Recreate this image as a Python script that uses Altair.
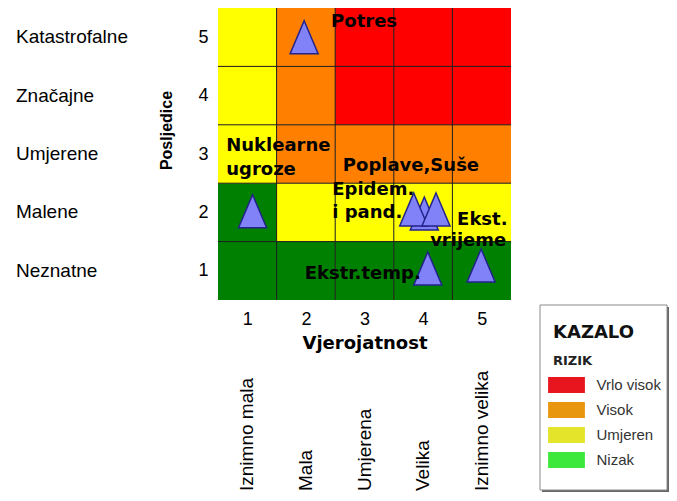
import altair as alt
import pandas as pd

# ---------------- data ----------------
prob_ticks = [1, 2, 3, 4, 5]
cons_ticks = [1, 2, 3, 4, 5]
cons_names = ["Neznatne", "Malene", "Umjerene", "Značajne", "Katastrofalne"]
prob_names = ["Iznimno mala", "Mala", "Umjerena", "Velika", "Iznimno velika"]

levels = ["Vrlo visok", "Visok", "Umjeren", "Nizak"]
cell_colors = ["#FF0000", "#FF8000", "#FFFF00", "#008000"]
legend_colors = ["#E8141E", "#E9960F", "#E4E42A", "#3CE83C"]

# risk level of each cell: rows = consequence 1..5, columns = probability 1..5
risk_rows = [
    ["Nizak", "Nizak", "Nizak", "Nizak", "Nizak"],
    ["Nizak", "Umjeren", "Umjeren", "Umjeren", "Umjeren"],
    ["Umjeren", "Visok", "Visok", "Visok", "Visok"],
    ["Umjeren", "Visok", "Vrlo visok", "Vrlo visok", "Vrlo visok"],
    ["Umjeren", "Visok", "Vrlo visok", "Vrlo visok", "Vrlo visok"],
]

event_x = [1.97, 1.09, 4.02, 3.84, 4.22, 4.08, 4.99]
event_y = [5.00, 2.02, 1.98, 2.05, 2.05, 1.04, 1.09]

label_text = ["Potres", "Nuklearne", "ugroze", "Poplave,Suše", "Epidem.", "i pand.",
              "Ekst.", "vrijeme", "Ekstr.temp."]
label_x = [2.43, 0.64, 0.64, 2.63, 2.45, 2.45, 4.58, 4.12, 1.98]
label_y = [5.26, 3.14, 2.73, 2.79, 2.38, 1.99, 1.87, 1.51, 0.945]

grid_breaks = [1.5, 2.5, 3.5, 4.5]

# ---------------- tables ----------------
cells = pd.DataFrame([
    {"p0": p - 0.5, "p1": p + 0.5, "c0": c - 0.5, "c1": c + 0.5,
     "fill": cell_colors[levels.index(risk_rows[c - 1][p - 1])]}
    for c in cons_ticks for p in prob_ticks
])
events = pd.DataFrame({"x": event_x, "y": event_y})
labels = pd.DataFrame({"t": label_text, "x": label_x, "y": label_y})
vgrid = pd.DataFrame({"x": grid_breaks, "y0": [0.5] * 4, "y1": [5.5] * 4})
hgrid = pd.DataFrame({"y": grid_breaks, "x0": [0.5] * 4, "x1": [5.5] * 4})
cons_df = pd.DataFrame({"c": cons_ticks, "name": cons_names})
prob_df = pd.DataFrame({"p": prob_ticks, "name": prob_names})
legend_df = pd.DataFrame({"level": levels})
one = pd.DataFrame({"a": [0]})

xs = alt.Scale(domain=[0.5, 5.5], nice=False, zero=False)
ys = alt.Scale(domain=[0.5, 5.5], nice=False, zero=False)

x_axis = alt.Axis(values=prob_ticks, format="d", domain=False, ticks=False, tickSize=0,
                  grid=False, labelFont="Liberation Sans", labelFontSize=18,
                  labelColor="black", labelPadding=10, title="Vjerojatnost",
                  titleFont="DejaVu Sans", titleFontSize=18, titleFontWeight="bold",
                  titleColor="black", titlePadding=6)
y_axis = alt.Axis(values=cons_ticks, format="d", domain=False, ticks=False, tickSize=0,
                  grid=False, labelFont="Liberation Sans", labelFontSize=18,
                  labelColor="black", labelPadding=10, title="Posljedice",
                  titleFont="Liberation Sans", titleFontSize=16, titleFontWeight="bold",
                  titleColor="black", titleAngle=270, titleX=-52, titleY=122,
                  titleAlign="center", titleBaseline="middle")


def X(field):
    return alt.X(field, scale=xs, axis=x_axis, title="Vjerojatnost")


def Y(field):
    return alt.Y(field, scale=ys, axis=y_axis, title="Posljedice")


rect = alt.Chart(cells).mark_rect().encode(
    x=X("p0:Q"), x2="p1:Q", y=Y("c0:Q"), y2="c1:Q",
    fill=alt.Fill("fill:N", scale=None),
)

vlines = alt.Chart(vgrid).mark_rule(color="#1a1a1a", strokeWidth=1).encode(
    x=X("x:Q"), y=Y("y0:Q"), y2="y1:Q",
)
hlines = alt.Chart(hgrid).mark_rule(color="#1a1a1a", strokeWidth=1).encode(
    y=Y("y:Q"), x=X("x0:Q"), x2="x1:Q",
)

tri = alt.Chart(events).mark_point(
    shape="M0,-1L0.85,1L-0.85,1Z", size=1089, filled=True,
    fill="#8282F8", stroke="#23238C", strokeWidth=1.5, opacity=1,
).encode(x=X("x:Q"), y=Y("y:Q"))

txt = alt.Chart(labels).mark_text(
    font="DejaVu Sans", fontWeight="bold", fontSize=18, align="left",
    baseline="middle", color="black",
).encode(x=X("x:Q"), y=Y("y:Q"), text="t:N")

cat_txt = alt.Chart(cons_df).mark_text(
    font="Liberation Sans", fontSize=19, align="left", baseline="middle",
    color="black", x=-202,
).encode(y=Y("c:Q"), text="name:N")

prob_txt = alt.Chart(prob_df).mark_text(
    font="Liberation Sans", fontSize=19, align="left", baseline="middle",
    color="black", angle=270, y=483,
).encode(x=X("p:Q"), text="name:N")

shadow = alt.Chart(one).mark_rect(color="#666666").encode(
    x=alt.value(324), x2=alt.value(451), y=alt.value(299), y2=alt.value(484))
box = alt.Chart(one).mark_rect(fill="white", stroke="#8a8a8a", strokeWidth=1).encode(
    x=alt.value(322), x2=alt.value(449), y=alt.value(297), y2=alt.value(482))
kazalo = alt.Chart(one).mark_text(
    text="KAZALO", font="DejaVu Sans", fontWeight="bold", fontSize=18,
    align="left", baseline="middle", color="#111111",
).encode(x=alt.value(335), y=alt.value(325))

leg = alt.Chart(legend_df).mark_point(filled=True, opacity=0, size=1).encode(
    color=alt.Color(
        "level:N",
        scale=alt.Scale(domain=levels, range=legend_colors),
        legend=alt.Legend(
            orient="none", legendX=335, legendY=347, padding=0,
            title="RIZIK", titleFont="DejaVu Sans", titleFontSize=13,
            titleFontWeight="bold", titleColor="#222222", titlePadding=9,
            symbolType="M-2.3,-1L2.3,-1L2.3,1L-2.3,1Z", symbolSize=256,
            symbolOpacity=1, symbolStrokeWidth=0, symbolOffset=5.5,
            labelFont="Liberation Sans", labelFontSize=15, labelColor="#333333",
            labelOffset=22, rowPadding=9,
        ),
    )
)

chart = alt.layer(
    rect, vlines, hlines, tri, txt, cat_txt, prob_txt, shadow, box, kazalo, leg
).properties(
    width=293, height=292,
    autosize=alt.AutoSizeParams(type="none"),
    padding={"left": 210, "top": 0, "right": 158, "bottom": 193},
).configure_view(strokeWidth=0)

chart.save("out.html", embed_options={"renderer": "svg", "actions": False})
